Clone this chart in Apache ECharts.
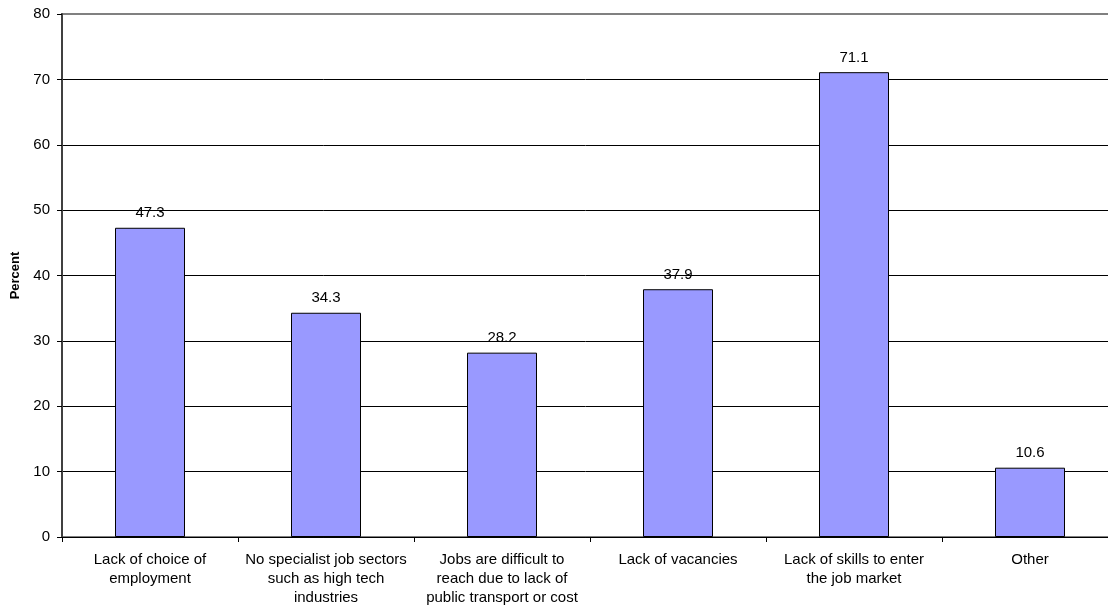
<!DOCTYPE html>
<html>
<head>
<meta charset="utf-8">
<script src="https://cdn.jsdelivr.net/npm/echarts@6/dist/echarts.min.js"></script>
<style>
  html, body { margin: 0; padding: 0; background: #fff; }
  #chart { width: 1108px; height: 608px; }
</style>
</head>
<body>
<div id="chart"></div>
<script>
// reasons (x categories)
const categories = [
  'Lack of choice of\nemployment',
  'No specialist job sectors\nsuch as high tech\nindustries',
  'Jobs are difficult to\nreach due to lack of\npublic transport or cost',
  'Lack of vacancies',
  'Lack of skills to enter\nthe job market',
  'Other'
]
const percentValues = [47.3, 34.3, 28.2, 37.9, 71.1, 10.6]
const yTicks = { min: 0, max: 80, interval: 10 }

const chart = echarts.init(document.getElementById('chart'))
const font = 'Liberation Sans, Arial, sans-serif'

// grid lines black, top one (80) gray like the plot border
const splitColors = ['#000', '#000', '#000', '#000', '#000', '#000', '#000', '#000', '#808080']

chart.setOption({
  animation: false,
  textStyle: { fontFamily: font },
  grid: {
    left: 62,
    top: 14,
    width: 1056,
    height: 523,
    outerBoundsMode: 'none',
    containLabel: false,
    show: true,
    borderColor: '#808080',
    borderWidth: 2,
    backgroundColor: 'transparent'
  },
  xAxis: {
    type: 'category',
    data: categories,
    axisLine: { lineStyle: { color: '#000', width: 1 } },
    axisTick: { show: true, length: 5, lineStyle: { color: '#000' } },
    axisLabel: {
      interval: 0,
      color: '#000',
      fontSize: 15,
      fontFamily: font,
      lineHeight: 19,
      margin: 13
    }
  },
  yAxis: {
    type: 'value',
    min: yTicks.min,
    max: yTicks.max,
    interval: yTicks.interval,
    name: 'Percent',
    nameLocation: 'middle',
    nameGap: 40,
    nameTextStyle: { color: '#000', fontSize: 13, fontWeight: 'bold', fontFamily: font },
    axisLine: { show: true, lineStyle: { color: '#404040', width: 2 } },
    axisTick: { show: true, length: 5, lineStyle: { color: '#000' } },
    axisLabel: { color: '#000', fontSize: 15, fontFamily: font, margin: 12 },
    splitLine: { show: true, lineStyle: { color: splitColors, width: 1 } }
  },
  series: [
    {
      type: 'bar',
      data: percentValues,
      barWidth: 70,
      itemStyle: { color: '#9999ff', borderColor: '#000', borderWidth: 1 },
      label: {
        show: true,
        position: 'top',
        distance: 7,
        color: '#000',
        fontSize: 15,
        fontFamily: font
      }
    }
  ]
})
</script>
</body>
</html>
